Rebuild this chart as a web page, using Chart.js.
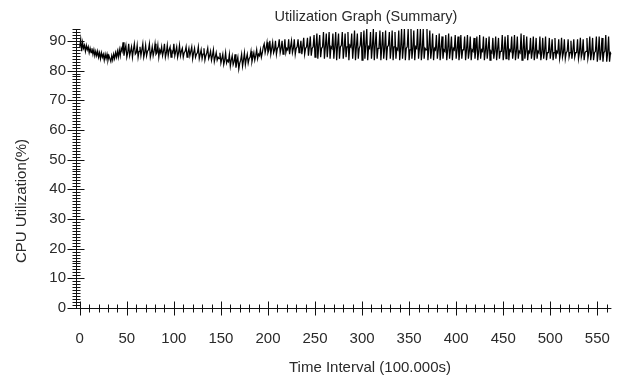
<!DOCTYPE html>
<html>
<head>
<meta charset="utf-8">
<script src="https://cdn.jsdelivr.net/npm/chart.js@4.4.1/dist/chart.umd.min.js"></script>
<style>
html,body{margin:0;padding:0;background:#ffffff;}
#wrap{width:632px;height:381px;position:relative;}
</style>
</head>
<body>
<div id="wrap"><canvas id="c" width="632" height="381"></canvas></div>
<script>
const chartTitle = "Utilization Graph (Summary)";
const xAxisTitle = "Time Interval (100.000s)";
const yAxisTitle = "CPU Utilization(%)";
const xTickValues = [0, 50, 100, 150, 200, 250, 300, 350, 400, 450, 500, 550];
const yTickValues = [0, 10, 20, 30, 40, 50, 60, 70, 80, 90];
const xMinorStep = 10, xMinorLast = 560;
const yMinorStep = 1, yMinorLast = 94;

// CPU utilization (%) per time interval, index = interval 0..565
const cpuUtilization = [
  88, 90.5, 86.5, 89.5, 87.5, 88.5, 86.5, 88.5, 87, 88,
  86, 87.5, 86, 87.5, 85.5, 87, 85, 86.5, 85, 86.5,
  84.5, 86, 84, 86, 84.5, 85.5, 83.5, 85.5, 84, 85.5,
  83.5, 85, 84, 83, 85, 83.5, 85.5, 84, 86, 84.5,
  86.5, 84.5, 87, 85, 87.5, 86.5, 89.5, 85, 87, 88.5,
  84.5, 86, 89, 85, 86.5, 88, 84.5, 87, 89, 85.5,
  86, 88.5, 84.5, 86.5, 88, 85, 87, 89, 84.5, 86,
  88.5, 85, 86.5, 87, 89, 84.5, 86, 88, 85, 86.5,
  89, 85.5, 86, 88.5, 84.5, 87, 86, 88, 85, 86.5,
  89, 84.5, 86, 88.5, 85, 87, 88, 84.5, 86.5, 86,
  89, 85, 86.5, 88, 84.5, 86, 88.5, 85, 86.5, 87.5,
  84.5, 86, 86.5, 88, 84.5, 86, 87.5, 85, 86.5, 88,
  84, 86, 87.5, 84.5, 85.5, 86, 88, 84, 85.5, 87,
  84, 85.5, 87.5, 83.5, 85, 86, 87.5, 84, 85, 86.5,
  83.5, 85, 87, 83, 84.5, 86, 83.5, 84.5, 84, 86,
  82.5, 84, 85.5, 82, 83.5, 86, 82.5, 83.5, 83, 85.5,
  81.5, 83.5, 85, 82, 83, 85.5, 81, 83, 84.5, 80.5,
  82.5, 83.5, 85.5, 81.5, 83.5, 86, 82, 84, 85.5, 82.5,
  84, 84.5, 86.5, 83, 84.5, 86, 83.5, 85, 87, 84,
  85.5, 85, 87, 84.5, 86, 88, 89, 86, 87.5, 89.5,
  86, 87, 90, 85.5, 87.5, 89.5, 86, 87, 90, 85.5,
  87.5, 88, 90.5, 86, 87.5, 90, 85.5, 87, 90.5, 86,
  87.5, 87, 90.5, 85.5, 88, 90, 86, 87.5, 90.5, 85.5,
  87.5, 88, 90.5, 86, 87.5, 90, 85.5, 88, 91, 85.5,
  87.5, 88, 91, 85, 88, 91.5, 85, 87.5, 88, 92,
  84.5, 88, 92.5, 84, 88.5, 92, 84.5, 87.5, 88, 93,
  84, 88, 92.5, 84.5, 88.5, 93, 84, 88, 87.5, 92.5,
  84, 88, 93, 83.5, 88.5, 92.5, 84, 88, 88.5, 93,
  84, 87.5, 92.5, 84.5, 88, 93, 83.5, 88.5, 88, 92.5,
  84, 88, 93.5, 83.5, 88, 92.5, 84, 87.5, 88.5, 93,
  83.5, 88, 93.5, 84, 88.5, 94, 83.5, 88, 87.5, 93,
  84, 88, 94, 83.5, 88.5, 93, 84, 87.5, 88, 93.5,
  83.5, 88, 93, 84, 87.5, 93.5, 83.5, 88, 88.5, 93,
  84, 87.5, 93.5, 83.5, 88, 93, 84, 87.5, 87, 93.5,
  83.5, 87.5, 94, 84, 88, 94, 83.5, 87.5, 88, 94,
  83.5, 87, 94, 84, 87.5, 93.5, 83.5, 88, 87.5, 94,
  84, 87.5, 94, 83.5, 87, 94, 84, 87.5, 87, 94,
  83.5, 87.5, 93.5, 84, 87, 92.5, 83.5, 87.5, 87, 92,
  84, 87, 92.5, 83.5, 87.5, 91.5, 84, 87, 86.5, 92,
  83.5, 87, 92.5, 84, 87, 91.5, 83.5, 87.5, 87, 92,
  84, 87, 91.5, 83.5, 86.5, 92, 84, 87, 87, 91.5,
  83.5, 87, 92, 84, 86.5, 91.5, 83.5, 87, 86.5, 91,
  84, 87, 91.5, 83.5, 86.5, 92, 84, 87, 86.5, 91.5,
  83.5, 86.5, 91, 84, 87, 91.5, 83.5, 86.5, 86, 91,
  84, 86.5, 91.5, 83.5, 87, 91, 84, 86.5, 86.5, 92,
  83.5, 86.5, 91.5, 84, 86.5, 92, 83.5, 87, 86.5, 91.5,
  84, 86.5, 92, 83.5, 86.5, 91.5, 84, 86.5, 86, 92.5,
  83.5, 86.5, 92, 84, 86.5, 91.5, 83.5, 86.5, 86, 91,
  84, 86.5, 91.5, 83.5, 86, 91, 84, 86.5, 86, 91.5,
  83.5, 86, 91, 84, 86.5, 91.5, 83.5, 86, 86, 91,
  84, 86.5, 90.5, 83.5, 86, 91, 84, 86.5, 86, 90.5,
  84, 86, 91, 84.5, 86, 90.5, 84, 86, 86.5, 90.5,
  84.5, 86, 90, 84, 86.5, 90.5, 84.5, 86, 86, 90.5,
  84, 86, 91, 84.5, 86, 90.5, 83.5, 86, 86.5, 91,
  84, 86, 91.5, 83.5, 86, 91, 83.5, 86, 86.5, 91.5,
  83, 86, 91.5, 83.5, 86, 91, 83, 86, 86.5, 92,
  83, 86, 91.5, 83, 86, 85.5
];

const textColor = '#2a2a2a';
const fontFamily = '"Liberation Sans", Arial, sans-serif';

const axesPlugin = {
  id: 'javaAxes',
  afterDraw(chart) {
    const { ctx, chartArea: a, scales: { x, y } } = chart;
    ctx.save();
    ctx.strokeStyle = '#111';
    ctx.lineWidth = 1;
    const ax = Math.round(a.left) + 0.5;
    const ay = Math.round(a.bottom) + 0.5;
    ctx.beginPath();
    ctx.moveTo(ax, a.top);
    ctx.lineTo(ax, ay);
    ctx.moveTo(ax, ay);
    ctx.lineTo(a.right, ay);
    for (let v = 0; v <= yMinorLast; v += yMinorStep) {
      const py = Math.round(y.getPixelForValue(v)) + 0.5;
      const major = yTickValues.includes(v);
      ctx.moveTo(ax - (major ? 9 : 4), py);
      ctx.lineTo(ax + (major ? 8 : 4), py);
    }
    for (let v = 0; v <= xMinorLast; v += xMinorStep) {
      const px = Math.round(x.getPixelForValue(v)) + 0.5;
      const major = xTickValues.includes(v);
      ctx.moveTo(px, ay - (major ? 7 : 4));
      ctx.lineTo(px, ay + (major ? 7 : 4));
    }
    ctx.stroke();

    ctx.fillStyle = textColor;
    ctx.textAlign = 'center';
    ctx.textBaseline = 'middle';
    ctx.font = '14.5px ' + fontFamily;
    ctx.fillText(chartTitle, 366, 17);
    ctx.font = '15px ' + fontFamily;
    ctx.fillText(xAxisTitle, 370, 368);
    ctx.translate(22, 201);
    ctx.rotate(-Math.PI / 2);
    ctx.fillText(yAxisTitle, 0, 0);
    ctx.restore();
  }
};

new Chart(document.getElementById('c'), {
  type: 'line',
  data: {
    datasets: [{
      data: cpuUtilization.map((v, i) => ({ x: i, y: v })),
      borderColor: '#000',
      borderWidth: 1.25,
      pointRadius: 0,
      fill: false,
      tension: 0
    }]
  },
  options: {
    responsive: false,
    animation: false,
    devicePixelRatio: 1,
    layout: { padding: { top: 29, right: 7, left: 0, bottom: 0 } },
    plugins: { legend: { display: false }, title: { display: false }, tooltip: { enabled: false } },
    scales: {
      x: {
        type: 'linear',
        min: -4,
        max: 565,
        grid: { display: false, drawTicks: false },
        border: { display: false },
        ticks: { color: textColor, font: { family: fontFamily, size: 15 }, padding: 22, maxRotation: 0, autoSkip: false },
        afterBuildTicks: s => { s.ticks = xTickValues.map(v => ({ value: v })); },
        afterFit: s => { s.height = 73; }
      },
      y: {
        type: 'linear',
        min: 0,
        max: 94,
        grid: { display: false, drawTicks: false },
        border: { display: false },
        ticks: { color: textColor, font: { family: fontFamily, size: 15 }, padding: 10, autoSkip: false },
        afterBuildTicks: s => { s.ticks = yTickValues.map(v => ({ value: v })); },
        afterFit: s => { s.width = 76; }
      }
    }
  },
  plugins: [axesPlugin]
});
</script>
</body>
</html>
